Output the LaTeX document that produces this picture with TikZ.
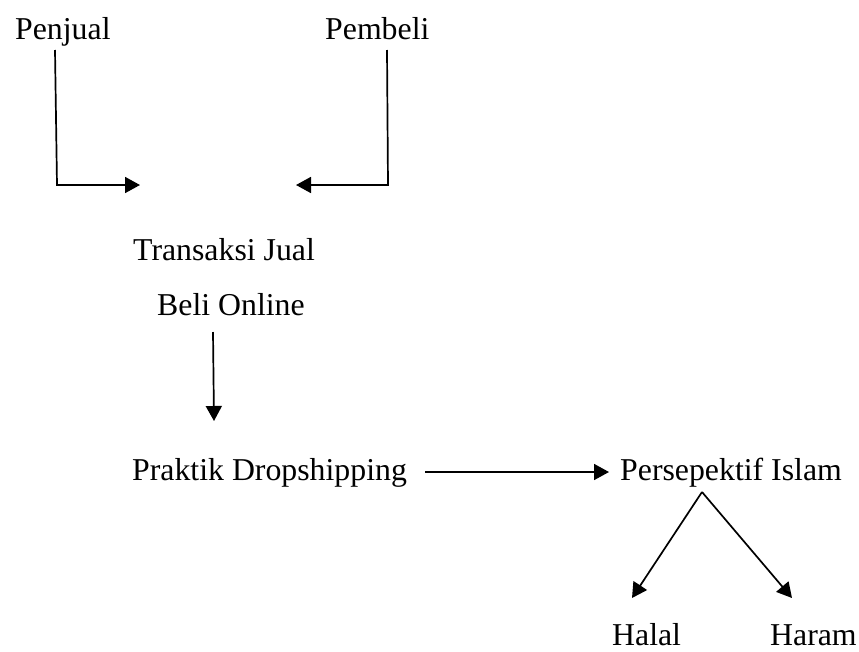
\documentclass[tikz,border=0pt]{standalone}
\usepackage{fontspec}
\setmainfont{Liberation Serif}
\usetikzlibrary{arrows.meta}
\begin{document}
\begin{tikzpicture}[x=1pt,y=-1pt,
  lbl/.style={anchor=base west,inner sep=0pt,font=\fontsize{31.8}{38}\selectfont},
  conn/.style={line width=1.7pt,-{Triangle[length=15pt,width=16pt]}}]
\useasboundingbox (0,0) rectangle (859,651);
\node[lbl] (pj) at (15,39) {Penjual};
\node[lbl] (pb) at (325,39) {Pembeli};
\node[lbl] (tj) at (133,260) {Transaksi Jual};
\node[lbl] (bo) at (157,315) {Beli Online};
\node[lbl] (pd) at (132,480) {Praktik Dropshipping};
\node[lbl] (pi) at (620,480) {Persepektif Islam};
\node[lbl] (hl) at (612,645) {Halal};
\node[lbl] (hr) at (770,645) {Haram};
\coordinate (pjs) at (55,50);
\coordinate (pjc) at (57,185);
\coordinate (pjt) at (140,185);
\coordinate (pbs) at (387,50);
\coordinate (pbc) at (388,185);
\coordinate (pbt) at (296,185);
\coordinate (bos) at (213,332);
\coordinate (bot) at (214,421);
\coordinate (pds) at (425,472);
\coordinate (pdt) at (609,472);
\coordinate (apex) at (702,492);
\coordinate (hlt) at (632,598);
\coordinate (hrt) at (792,598);
\draw[conn] (pjs) -- (pjc) -- (pjt);
\draw[conn] (pbs) -- (pbc) -- (pbt);
\draw[conn] (bos) -- (bot);
\draw[conn] (pds) -- (pdt);
\draw[conn] (apex) -- (hlt);
\draw[conn] (apex) -- (hrt);
\end{tikzpicture}
\end{document}
